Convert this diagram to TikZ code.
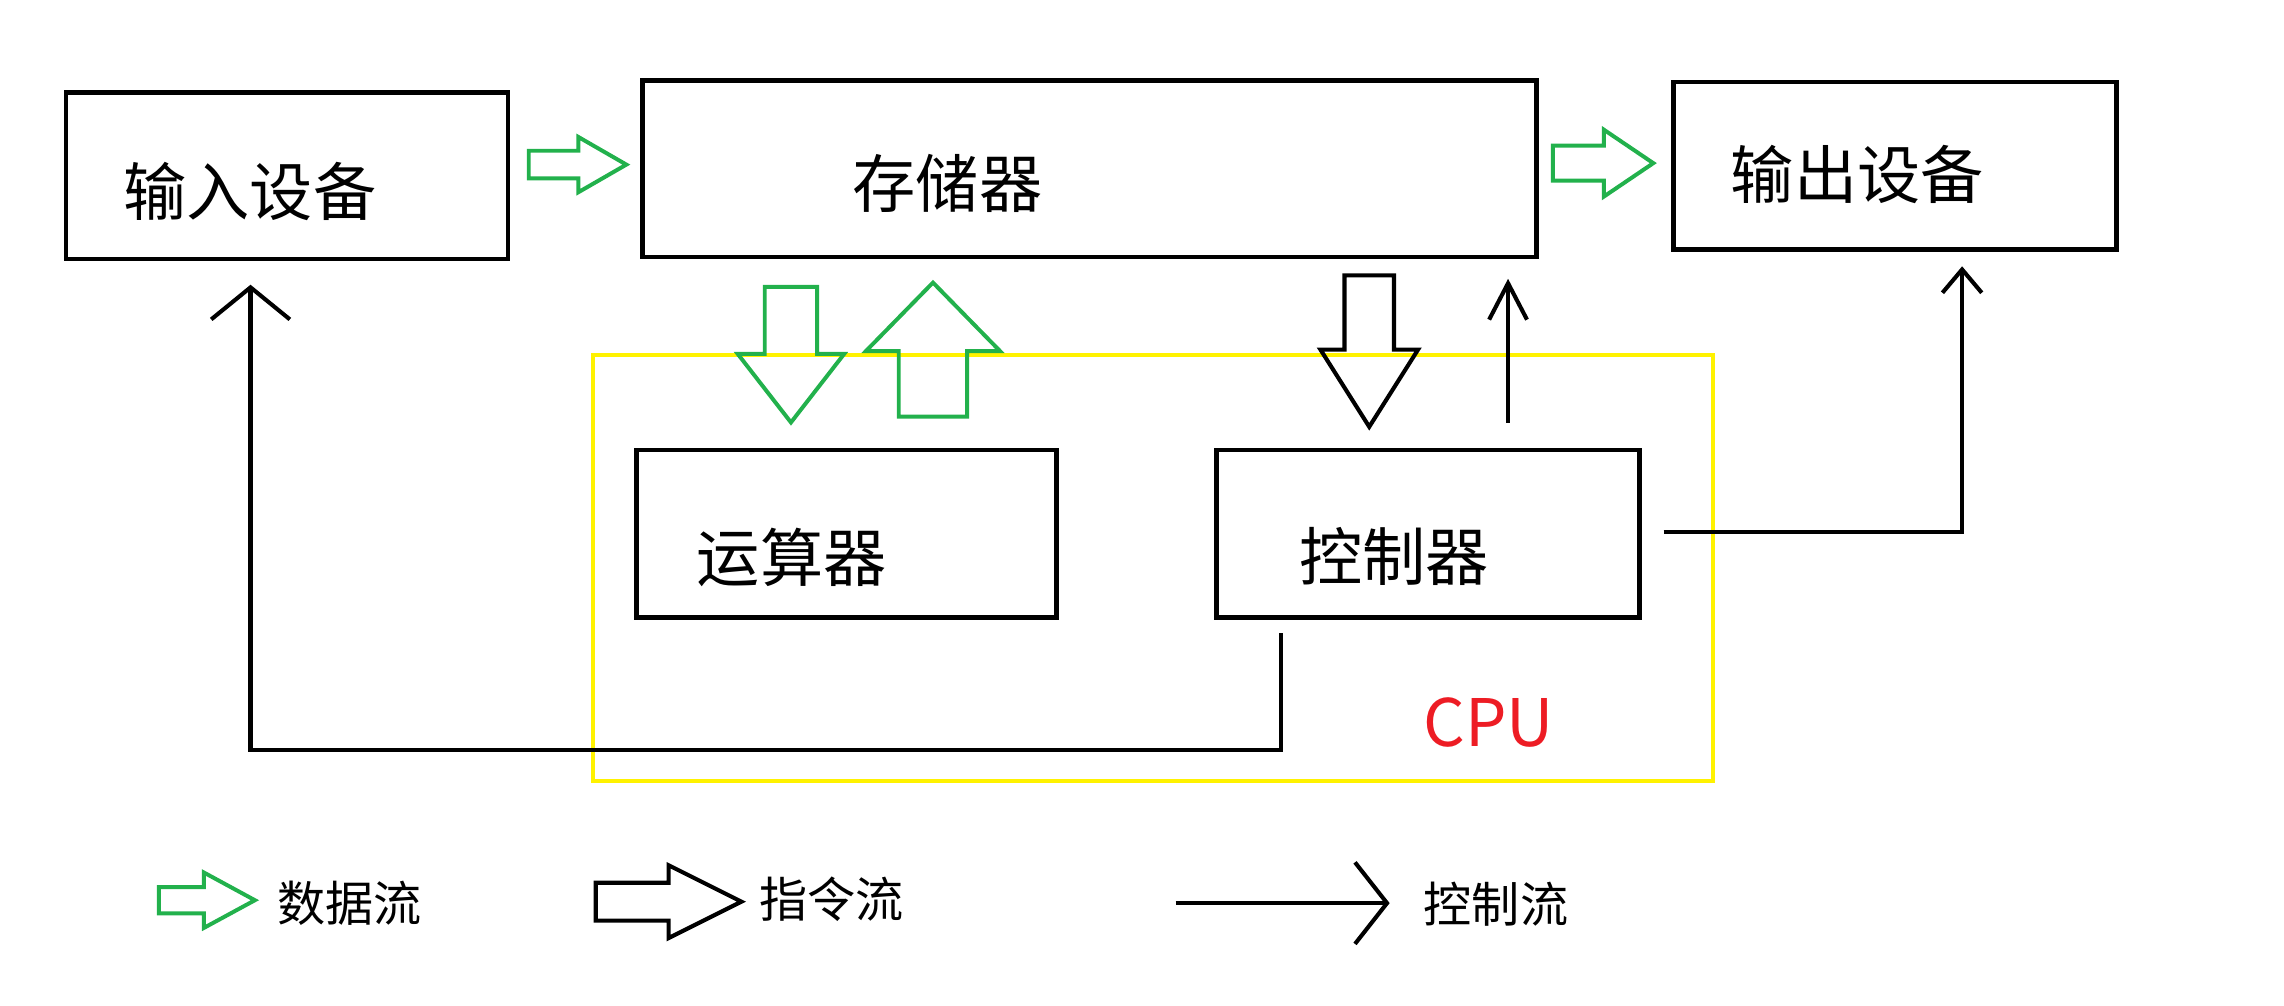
\documentclass[tikz,border=0pt]{standalone}
\usepackage{fontspec}
\setmainfont{Noto Sans CJK SC}
\usetikzlibrary{arrows.meta,calc}
\definecolor{paintgreen}{RGB}{34,177,76}
\definecolor{paintyellow}{RGB}{255,242,0}
\definecolor{paintred}{RGB}{237,28,36}
% hollow block arrow: style, tail, angle, length, half shaft, half head, head length
\newcommand{\flowarrow}[7]{%
  \draw[#1,shift={#2},rotate=#3] (0,-#5) -- (#4-#7,-#5) -- (#4-#7,-#6)
    -- (#4,0) -- (#4-#7,#6) -- (#4-#7,#5) -- (0,#5) -- cycle;}

\begin{document}
\begin{tikzpicture}[x=0.02cm, y=-0.02cm,
    box/.style={draw, line width=1.85pt, minimum height=2.3cm, inner sep=0pt},
    word/.style={font=\fontsize{24.7}{28}\selectfont, inner sep=0pt},
    key/.style={font=\fontsize{18.8}{22}\selectfont, inner sep=0pt},
    ctl/.style={line width=1.6pt},
    data/.style={paintgreen, line width=1.55pt},
    instr/.style={black, line width=1.6pt}]
  \useasboundingbox (0,0) rectangle (1568,690);
  % CPU frame
  \node[draw=paintyellow, line width=1.55pt, minimum width=15.38cm,
    minimum height=5.85cm, inner sep=0pt] (cpu) at (791.5,390.2) {};
  \node[font=\fontsize{25.6}{28}\selectfont, text=paintred, anchor=base,
    inner sep=0pt] (cpuT) at (1022,512.6) {CPU};
  % units
  \node[box, minimum width=6.07cm, minimum height=2.29cm] (in) at (197,120.6) {};
  \node[box, minimum width=12.27cm, minimum height=2.42cm] (mem) at (748,116) {};
  \node[box, minimum width=6.08cm] (out) at (1301,113.7) {};
  \node[box, minimum width=5.77cm] (alu) at (581.3,366.5) {};
  \node[box, minimum width=5.81cm] (ctrl) at (980.3,366.5) {};
  \node[word] (inT) at (171.6,131.5) {输入设备};
  \node[word] (memT) at (650.5,126) {存储器};
  \node[word] (outT) at (1275,120) {输出设备};
  \node[word] (aluT) at (543.5,382.5) {运算器};
  \node[word] (ctrlT) at (957,382) {控制器};
  % data and instruction flow
  \flowarrow{data}{(363,113)}{0}{67}{9.5}{19}{33}
  \flowarrow{data}{(1066,112)}{0}{69}{12}{23}{34}
  \flowarrow{data}{(543,197)}{-90}{93}{18}{36.5}{47}
  \flowarrow{data}{(640.5,286)}{90}{92}{23.5}{46}{47}
  \flowarrow{instr}{(940,189)}{-90}{104}{17}{33.5}{53}
  % control flow
  \draw[ctl, -{Straight Barb[length=0.44cm, width=1.08cm]}]
    ($(ctrl.south)+(-101,9)$) -- ++(0,80) -| ($(in.south)+(-25,16)$);
  \draw[ctl, -{Straight Barb[length=0.5cm, width=0.52cm]}]
    ($(ctrl.north)+(55,-17)$) -- ++(0,-99);
  \draw[ctl, -{Straight Barb[length=0.32cm, width=0.54cm]}]
    ($(ctrl.east)+(15,-1.5)$) -| ($(out.south)+(46,10)$);
  % legend
  \flowarrow{data}{(109,618)}{0}{66}{9}{19}{35}
  \node[key] (dataT) at (240,620) {数据流};
  \flowarrow{instr}{(409,619)}{0}{100}{13}{25}{50}
  \node[key] (instrT) at (571,617) {指令流};
  \coordinate (ctlA) at (807,620);
  \coordinate (ctlB) at (954,620);
  \draw[ctl, -{Straight Barb[length=0.44cm, width=1.12cm]}] (ctlA) -- (ctlB);
  \node[key] (ctlT) at (1027,621) {控制流};
\end{tikzpicture}
\end{document}
